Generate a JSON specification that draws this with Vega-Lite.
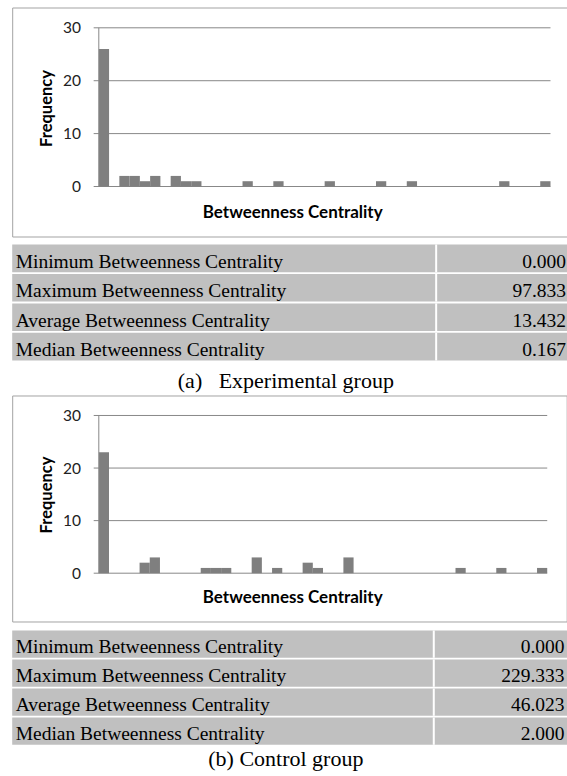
{
  "$schema": "https://vega.github.io/schema/vega-lite/v6.json",
  "padding": {"left": 11.2, "top": 6.5, "right": 0, "bottom": 0},
  "background": "white",
  "bounds": "flush",
  "spacing": 0,
  "config": {"view": {"stroke": null}, "title": {"font": "Liberation Serif", "fontWeight": "normal", "color": "#000"}},
  "datasets": {
    "grid": [{"g": 0}, {"g": 10}, {"g": 20}, {"g": 30}],
    "histA": [
      {"bin": 0, "binEnd": 1, "freq": 26},
      {"bin": 2, "binEnd": 3, "freq": 2},
      {"bin": 3, "binEnd": 4, "freq": 2},
      {"bin": 4, "binEnd": 5, "freq": 1},
      {"bin": 5, "binEnd": 6, "freq": 2},
      {"bin": 7, "binEnd": 8, "freq": 2},
      {"bin": 8, "binEnd": 9, "freq": 1},
      {"bin": 9, "binEnd": 10, "freq": 1},
      {"bin": 14, "binEnd": 15, "freq": 1},
      {"bin": 17, "binEnd": 18, "freq": 1},
      {"bin": 22, "binEnd": 23, "freq": 1},
      {"bin": 27, "binEnd": 28, "freq": 1},
      {"bin": 30, "binEnd": 31, "freq": 1},
      {"bin": 39, "binEnd": 40, "freq": 1},
      {"bin": 43, "binEnd": 44, "freq": 1}
    ],
    "histB": [
      {"bin": 0, "binEnd": 1, "freq": 23},
      {"bin": 4, "binEnd": 5, "freq": 2},
      {"bin": 5, "binEnd": 6, "freq": 3},
      {"bin": 10, "binEnd": 11, "freq": 1},
      {"bin": 11, "binEnd": 12, "freq": 1},
      {"bin": 12, "binEnd": 13, "freq": 1},
      {"bin": 15, "binEnd": 16, "freq": 3},
      {"bin": 17, "binEnd": 18, "freq": 1},
      {"bin": 20, "binEnd": 21, "freq": 2},
      {"bin": 21, "binEnd": 22, "freq": 1},
      {"bin": 24, "binEnd": 25, "freq": 3},
      {"bin": 35, "binEnd": 36, "freq": 1},
      {"bin": 39, "binEnd": 40, "freq": 1},
      {"bin": 43, "binEnd": 44, "freq": 1}
    ],
    "statsA": [
      {"stat": "Minimum Betweenness Centrality", "value": "0.000"},
      {"stat": "Maximum Betweenness Centrality", "value": "97.833"},
      {"stat": "Average Betweenness Centrality", "value": "13.432"},
      {"stat": "Median Betweenness Centrality", "value": "0.167"}
    ],
    "statsB": [
      {"stat": "Minimum Betweenness Centrality", "value": "0.000"},
      {"stat": "Maximum Betweenness Centrality", "value": "229.333"},
      {"stat": "Average Betweenness Centrality", "value": "46.023"},
      {"stat": "Median Betweenness Centrality", "value": "2.000"}
    ]
  },
  "vconcat": [
    {
      "width": 555.3,
      "height": 229,
      "view": {"stroke": "#a3a3a3", "strokeWidth": 1},
      "layer": [
        {
          "data": {"name": "grid"},
          "mark": {"type": "rule", "color": "#888888", "strokeWidth": 1},
          "encoding": {
            "y": {"field": "g", "type": "quantitative",
              "scale": {"domain": [-9.452, 33.838], "nice": false, "zero": false},
              "axis": {"values": [0, 10, 20, 30], "offset": -86.6, "grid": false, "domain": false, "ticks": false,
                "labelPadding": 18.3, "labelFont": "Lato", "labelFontSize": 15.5, "labelColor": "#222",
                "title": "Frequency", "titleFont": "Lato", "titleFontSize": 16.5, "titleFontWeight": "bold", "titleColor": "#000",
                "titleX": -46.8, "titleY": 100.5, "titleBaseline": "alphabetic", "titleAngle": 270, "titleAlign": "center"}},
            "x": {"datum": -0.5, "type": "quantitative",
              "scale": {"domain": [-8.436, 45.655], "nice": false, "zero": false},
              "axis": {"title": "Betweenness Centrality", "labels": false, "ticks": false, "domain": false, "grid": false,
                "titleFont": "Lato", "titleFontSize": 17, "titleFontWeight": "bold", "titleColor": "#000",
                "titleX": 280, "titleY": -24, "titleBaseline": "middle", "titleAlign": "center"}},
            "x2": {"datum": 44}
          }
        },
        {
          "data": {"name": "histA"},
          "mark": {"type": "rect", "color": "#7f7f7f"},
          "encoding": {
            "x": {"field": "bin", "type": "quantitative",
              "axis": {"title": "Betweenness Centrality", "labels": false, "ticks": false, "domain": false, "grid": false,
                "titleFont": "Lato", "titleFontSize": 17, "titleFontWeight": "bold", "titleColor": "#000",
                "titleX": 280, "titleY": -24, "titleBaseline": "middle", "titleAlign": "center"}},
            "x2": {"field": "binEnd"},
            "y": {"field": "freq", "type": "quantitative",
              "axis": {"values": [0, 10, 20, 30], "offset": -86.6, "grid": false, "domain": false, "ticks": false,
                "labelPadding": 18.3, "labelFont": "Lato", "labelFontSize": 15.5, "labelColor": "#222",
                "title": "Frequency", "titleFont": "Lato", "titleFontSize": 16.5, "titleFontWeight": "bold", "titleColor": "#000",
                "titleX": -46.8, "titleY": 100.5, "titleBaseline": "alphabetic", "titleAngle": 270, "titleAlign": "center"}},
            "y2": {"datum": 0}
          }
        },
        {
          "data": {"name": "grid"},
          "mark": {"type": "rule", "color": "#888888", "strokeWidth": 1},
          "encoding": {
            "x": {"datum": 0, "type": "quantitative",
              "axis": {"title": "Betweenness Centrality", "labels": false, "ticks": false, "domain": false, "grid": false,
                "titleFont": "Lato", "titleFontSize": 17, "titleFontWeight": "bold", "titleColor": "#000",
                "titleX": 280, "titleY": -24, "titleBaseline": "middle", "titleAlign": "center"}},
            "y": {"aggregate": "min", "field": "g", "type": "quantitative",
              "axis": {"values": [0, 10, 20, 30], "offset": -86.6, "grid": false, "domain": false, "ticks": false,
                "labelPadding": 18.3, "labelFont": "Lato", "labelFontSize": 15.5, "labelColor": "#222",
                "title": "Frequency", "titleFont": "Lato", "titleFontSize": 16.5, "titleFontWeight": "bold", "titleColor": "#000",
                "titleX": -46.8, "titleY": 100.5, "titleBaseline": "alphabetic", "titleAngle": 270, "titleAlign": "center"}},
            "y2": {"aggregate": "max", "field": "g"}
          }
        }
      ]
    },
    {
      "width": 555.3,
      "height": 159,
      "data": {"name": "statsA"},
      "title": {"text": "(a)\u00a0\u00a0 Experimental group", "orient": "bottom", "anchor": "middle", "fontSize": 22, "baseline": "alphabetic", "offset": -8, "dx": -4},
      "layer": [
        {
          "mark": {"type": "rect", "color": "#c0c0c0"},
          "encoding": {
            "y": {"field": "stat", "type": "nominal", "sort": null, "scale": {"paddingInner": 0.06, "paddingOuter": 0.7303, "align": 0.186}, "axis": null}
          }
        },
        {
          "mark": {"type": "rule", "color": "white", "strokeWidth": 2},
          "encoding": {
            "x": {"datum": 0.7635, "type": "quantitative", "scale": {"domain": [0, 1], "nice": false, "zero": false}, "axis": null},
            "y": {"field": "stat", "type": "nominal", "sort": null, "axis": null, "bandPosition": 0},
            "y2": {"field": "stat", "bandPosition": 1}
          }
        },
        {
          "mark": {"type": "text", "align": "left", "baseline": "alphabetic", "dx": 3.5, "dy": 9.5, "font": "Liberation Serif", "fontSize": 19.5, "color": "#000"},
          "encoding": {
            "y": {"field": "stat", "type": "nominal", "sort": null, "axis": null},
            "x": {"datum": 0, "type": "quantitative", "axis": null},
            "text": {"field": "stat"}
          }
        },
        {
          "mark": {"type": "text", "align": "right", "baseline": "alphabetic", "dx": -1.5, "dy": 9.5, "font": "Liberation Serif", "fontSize": 19.5, "color": "#000"},
          "encoding": {
            "y": {"field": "stat", "type": "nominal", "sort": null, "axis": null},
            "x": {"datum": 1, "type": "quantitative", "axis": null},
            "text": {"field": "value"}
          }
        }
      ]
    },
    {
      "width": 554.5,
      "height": 226,
      "view": {"stroke": "#a3a3a3", "strokeWidth": 1},
      "layer": [
        {
          "data": {"name": "grid"},
          "mark": {"type": "rule", "color": "#888888", "strokeWidth": 1},
          "encoding": {
            "y": {"field": "g", "type": "quantitative",
              "scale": {"domain": [-9.188, 33.80], "nice": false, "zero": false},
              "axis": {"values": [0, 10, 20, 30], "offset": -86.6, "grid": false, "domain": false, "ticks": false,
                "labelPadding": 18.3, "labelFont": "Lato", "labelFontSize": 15.5, "labelColor": "#222",
                "title": "Frequency", "titleFont": "Lato", "titleFontSize": 16.5, "titleFontWeight": "bold", "titleColor": "#000",
                "titleX": -46.8, "titleY": 99, "titleBaseline": "alphabetic", "titleAngle": 270, "titleAlign": "center"}},
            "x": {"datum": -0.5, "type": "quantitative",
              "scale": {"domain": [-8.498, 45.91], "nice": false, "zero": false},
              "axis": {"title": "Betweenness Centrality", "labels": false, "ticks": false, "domain": false, "grid": false,
                "titleFont": "Lato", "titleFontSize": 17, "titleFontWeight": "bold", "titleColor": "#000",
                "titleX": 280, "titleY": -24, "titleBaseline": "middle", "titleAlign": "center"}},
            "x2": {"datum": 44}
          }
        },
        {
          "data": {"name": "histB"},
          "mark": {"type": "rect", "color": "#7f7f7f"},
          "encoding": {
            "x": {"field": "bin", "type": "quantitative",
              "axis": {"title": "Betweenness Centrality", "labels": false, "ticks": false, "domain": false, "grid": false,
                "titleFont": "Lato", "titleFontSize": 17, "titleFontWeight": "bold", "titleColor": "#000",
                "titleX": 280, "titleY": -24, "titleBaseline": "middle", "titleAlign": "center"}},
            "x2": {"field": "binEnd"},
            "y": {"field": "freq", "type": "quantitative",
              "axis": {"values": [0, 10, 20, 30], "offset": -86.6, "grid": false, "domain": false, "ticks": false,
                "labelPadding": 18.3, "labelFont": "Lato", "labelFontSize": 15.5, "labelColor": "#222",
                "title": "Frequency", "titleFont": "Lato", "titleFontSize": 16.5, "titleFontWeight": "bold", "titleColor": "#000",
                "titleX": -46.8, "titleY": 99, "titleBaseline": "alphabetic", "titleAngle": 270, "titleAlign": "center"}},
            "y2": {"datum": 0}
          }
        },
        {
          "data": {"name": "grid"},
          "mark": {"type": "rule", "color": "#888888", "strokeWidth": 1},
          "encoding": {
            "x": {"datum": 0, "type": "quantitative",
              "axis": {"title": "Betweenness Centrality", "labels": false, "ticks": false, "domain": false, "grid": false,
                "titleFont": "Lato", "titleFontSize": 17, "titleFontWeight": "bold", "titleColor": "#000",
                "titleX": 280, "titleY": -24, "titleBaseline": "middle", "titleAlign": "center"}},
            "y": {"aggregate": "min", "field": "g", "type": "quantitative",
              "axis": {"values": [0, 10, 20, 30], "offset": -86.6, "grid": false, "domain": false, "ticks": false,
                "labelPadding": 18.3, "labelFont": "Lato", "labelFontSize": 15.5, "labelColor": "#222",
                "title": "Frequency", "titleFont": "Lato", "titleFontSize": 16.5, "titleFontWeight": "bold", "titleColor": "#000",
                "titleX": -46.8, "titleY": 99, "titleBaseline": "alphabetic", "titleAngle": 270, "titleAlign": "center"}},
            "y2": {"aggregate": "max", "field": "g"}
          }
        }
      ]
    },
    {
      "width": 555.3,
      "height": 155,
      "data": {"name": "statsB"},
      "title": {"text": "(b) Control group", "orient": "bottom", "anchor": "middle", "fontSize": 22, "baseline": "alphabetic", "offset": -10, "dx": -4},
      "layer": [
        {
          "mark": {"type": "rect", "color": "#c0c0c0"},
          "encoding": {
            "y": {"field": "stat", "type": "nominal", "sort": null, "scale": {"paddingInner": 0.06, "paddingOuter": 0.7015, "align": 0.221}, "axis": null}
          }
        },
        {
          "mark": {"type": "rule", "color": "white", "strokeWidth": 2},
          "encoding": {
            "x": {"datum": 0.7592, "type": "quantitative", "scale": {"domain": [0, 1], "nice": false, "zero": false}, "axis": null},
            "y": {"field": "stat", "type": "nominal", "sort": null, "axis": null, "bandPosition": 0},
            "y2": {"field": "stat", "bandPosition": 1}
          }
        },
        {
          "mark": {"type": "text", "align": "left", "baseline": "alphabetic", "dx": 3.5, "dy": 9, "font": "Liberation Serif", "fontSize": 19.5, "color": "#000"},
          "encoding": {
            "y": {"field": "stat", "type": "nominal", "sort": null, "axis": null},
            "x": {"datum": 0, "type": "quantitative", "axis": null},
            "text": {"field": "stat"}
          }
        },
        {
          "mark": {"type": "text", "align": "right", "baseline": "alphabetic", "dx": -3, "dy": 9, "font": "Liberation Serif", "fontSize": 19.5, "color": "#000"},
          "encoding": {
            "y": {"field": "stat", "type": "nominal", "sort": null, "axis": null},
            "x": {"datum": 1, "type": "quantitative", "axis": null},
            "text": {"field": "value"}
          }
        }
      ]
    }
  ]
}
